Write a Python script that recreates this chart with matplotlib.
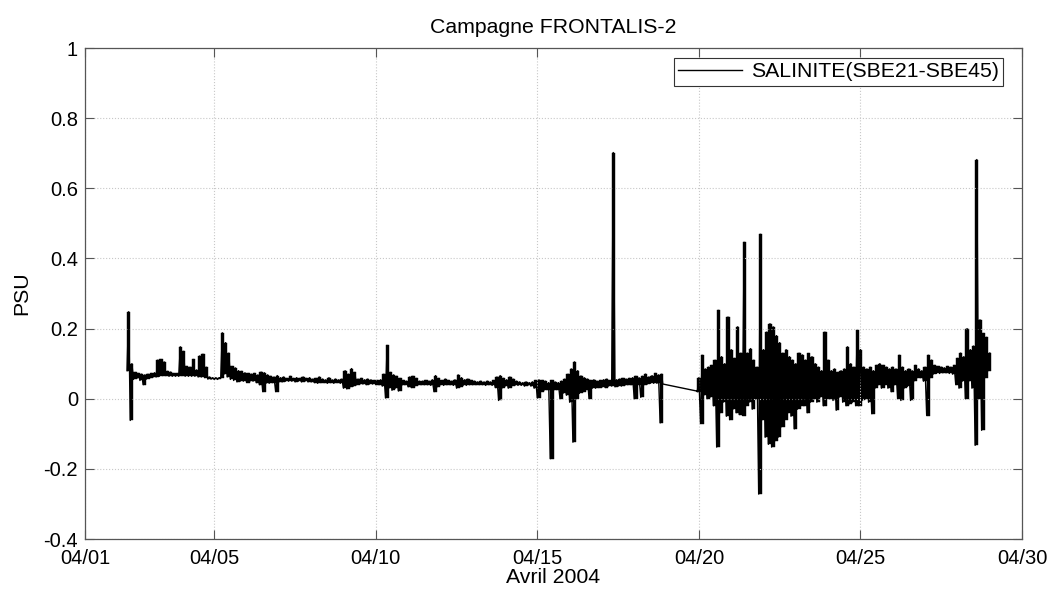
import numpy as np
import matplotlib
matplotlib.use('Agg')
import matplotlib.pyplot as plt

plt.rcParams['font.family'] = ['Liberation Sans', 'DejaVu Sans']
plt.rcParams['axes.unicode_minus'] = False

# salinity difference SBE21-SBE45 (PSU), read as min/max per 0.1 day bin
# first leg: bins start 2004-04-02.30 (day of April)
leg1_start = 2.30
leg1_hi = [0.248, 0.100, 0.075, 0.072, 0.070, 0.068, 0.070, 0.072, 0.074, 0.110,
           0.112, 0.105, 0.078, 0.076, 0.072, 0.072, 0.148, 0.135, 0.092, 0.090,
           0.112, 0.082, 0.122, 0.127, 0.090, 0.062, 0.060, 0.060, 0.060, 0.188,
           0.160, 0.130, 0.092, 0.088, 0.080, 0.078, 0.074, 0.072, 0.070, 0.072,
           0.068, 0.076, 0.074, 0.068, 0.064, 0.062, 0.066, 0.060, 0.062, 0.058,
           0.064, 0.058, 0.060, 0.058, 0.062, 0.058, 0.060, 0.056, 0.058, 0.062,
           0.056, 0.054, 0.060, 0.054, 0.056, 0.054, 0.056, 0.080, 0.070, 0.086,
           0.075, 0.056, 0.058, 0.054, 0.056, 0.054, 0.052, 0.052, 0.054, 0.070,
           0.152, 0.075, 0.068, 0.064, 0.058, 0.052, 0.050, 0.062, 0.064, 0.058,
           0.050, 0.050, 0.052, 0.050, 0.054, 0.066, 0.058, 0.052, 0.056, 0.052,
           0.050, 0.054, 0.068, 0.060, 0.054, 0.056, 0.052, 0.050, 0.048, 0.050,
           0.048, 0.050, 0.048, 0.052, 0.062, 0.066, 0.058, 0.054, 0.062, 0.056,
           0.050, 0.048, 0.046, 0.048, 0.046, 0.048, 0.052, 0.054, 0.052, 0.050,
           0.046, 0.052, 0.048, 0.046, 0.050, 0.056, 0.070, 0.085, 0.105, 0.080,
           0.065, 0.060, 0.056, 0.052, 0.054, 0.050, 0.052, 0.054, 0.056, 0.052,
           0.702, 0.054, 0.056, 0.058, 0.056, 0.058, 0.060, 0.064, 0.060, 0.064,
           0.070, 0.062, 0.066, 0.072, 0.068, 0.070]
leg1_lo = [0.080, -0.062, 0.055, 0.058, 0.052, 0.040, 0.056, 0.060, 0.062, 0.062,
           0.064, 0.066, 0.066, 0.064, 0.064, 0.064, 0.064, 0.066, 0.064, 0.064,
           0.064, 0.064, 0.062, 0.062, 0.060, 0.056, 0.056, 0.055, 0.055, 0.060,
           0.070, 0.062, 0.055, 0.052, 0.048, 0.050, 0.050, 0.046, 0.050, 0.050,
           0.046, 0.040, 0.020, 0.044, 0.044, 0.046, 0.020, 0.048, 0.048, 0.050,
           0.050, 0.050, 0.048, 0.050, 0.048, 0.050, 0.048, 0.048, 0.046, 0.044,
           0.046, 0.046, 0.044, 0.046, 0.044, 0.046, 0.044, 0.030, 0.028, 0.034,
           0.036, 0.040, 0.042, 0.042, 0.040, 0.042, 0.042, 0.040, 0.040, 0.036,
           0.002, 0.030, 0.024, 0.030, 0.022, 0.038, 0.040, 0.034, 0.032, 0.036,
           0.040, 0.040, 0.040, 0.040, 0.038, 0.020, 0.034, 0.040, 0.038, 0.040,
           0.040, 0.038, 0.030, 0.034, 0.038, 0.038, 0.040, 0.040, 0.040, 0.040,
           0.040, 0.038, 0.040, 0.038, 0.032, -0.005, 0.030, 0.036, 0.030, 0.036,
           0.038, 0.038, 0.038, 0.036, 0.038, 0.036, 0.030, 0.002, 0.020, 0.024,
           0.026, -0.171, 0.024, 0.026, 0.000, 0.016, 0.010, -0.010, -0.124, 0.000,
           0.015, 0.020, 0.026, 0.000, 0.030, 0.030, 0.032, 0.034, 0.032, 0.036,
           0.036, 0.034, 0.036, 0.036, 0.038, 0.040, 0.040, 0.000, 0.040, 0.004,
           0.040, 0.042, 0.044, 0.044, 0.044, -0.069]

# data gap between the two legs (straight segment)
gap_days = [18.88, 19.93]
gap_psu = [0.042, 0.022]

# second leg: bins start 2004-04-19.95
leg2_start = 19.95
leg2_hi = [0.060, 0.124, 0.085, 0.090, 0.095, 0.110, 0.252, 0.120, 0.100, 0.233,
           0.140, 0.115, 0.205, 0.130, 0.446, 0.130, 0.143, 0.110, 0.090, 0.469,
           0.140, 0.190, 0.214, 0.205, 0.180, 0.160, 0.130, 0.140, 0.120, 0.110,
           0.100, 0.130, 0.125, 0.110, 0.129, 0.120, 0.100, 0.090, 0.080, 0.190,
           0.110, 0.080, 0.085, 0.075, 0.080, 0.085, 0.148, 0.100, 0.090, 0.195,
           0.140, 0.090, 0.085, 0.090, 0.080, 0.095, 0.100, 0.095, 0.090, 0.085,
           0.090, 0.085, 0.124, 0.090, 0.080, 0.085, 0.080, 0.095, 0.085, 0.080,
           0.090, 0.124, 0.110, 0.095, 0.092, 0.090, 0.088, 0.092, 0.090, 0.095,
           0.115, 0.130, 0.120, 0.200, 0.140, 0.150, 0.682, 0.225, 0.186, 0.175,
           0.130]
leg2_lo = [0.020, -0.071, 0.010, 0.000, 0.005, -0.020, -0.138, -0.040, -0.010, -0.050,
           -0.060, -0.030, -0.040, -0.045, -0.048, -0.020, -0.010, -0.030, 0.000, -0.272,
           -0.060, -0.110, -0.130, -0.138, -0.120, -0.110, -0.080, -0.060, -0.040, -0.050,
           -0.086, -0.030, -0.020, -0.020, -0.040, -0.010, 0.000, -0.010, 0.005, -0.020,
           0.000, 0.000, -0.005, -0.033, 0.005, -0.010, -0.020, -0.015, -0.010, -0.020,
           -0.020, -0.005, 0.000, -0.010, -0.043, 0.030, 0.040, 0.030, 0.040, 0.030,
           0.020, 0.040, 0.000, -0.005, 0.030, 0.035, -0.005, 0.050, 0.060, 0.060,
           0.050, -0.048, 0.060, 0.070, 0.072, 0.072, 0.074, 0.074, 0.072, 0.070,
           0.040, 0.030, 0.050, 0.000, 0.050, 0.030, -0.133, 0.000, -0.090, 0.060,
           0.080]

tick_days = [1, 5, 10, 15, 20, 25, 30]
tick_labels = ['04/01', '04/05', '04/10', '04/15', '04/20', '04/25', '04/30']
y_ticks = [-0.4, -0.2, 0, 0.2, 0.4, 0.6, 0.8, 1]
y_labels = ['-0.4', '-0.2', '0', '0.2', '0.4', '0.6', '0.8', '1']

STEP = 0.1


def zigzag(start, hi, lo):
    # each bin drawn as lo -> hi, half a bin apart
    t = start + STEP * np.arange(len(hi))
    x = np.column_stack([t, t + STEP / 2]).ravel()
    y = np.column_stack([lo, hi]).ravel()
    return t, x, y


t1, x1, y1 = zigzag(leg1_start, leg1_hi, leg1_lo)
t2, x2, y2 = zigzag(leg2_start, leg2_hi, leg2_lo)
days = np.concatenate([x1, gap_days, x2])
psu = np.concatenate([y1, gap_psu, y2])

fig = plt.figure(figsize=(10.51, 5.95), dpi=100)
ax = fig.add_axes([0.0809, 0.0941, 0.8915, 0.8252])

ax.plot(days, psu, color='black', lw=1.0, label='SALINITE(SBE21-SBE45)')
# min/max range of each bin filled so the dense record reads as a solid trace
for t, hi, lo in [(t1, leg1_hi, leg1_lo), (t2, leg2_hi, leg2_lo)]:
    ax.fill_between(np.append(t, t[-1] + STEP), np.append(lo, lo[-1]),
                    np.append(hi, hi[-1]), step='post', color='black', lw=0.3)

ax.set_xlim(1, 30)
ax.set_ylim(-0.4, 1)
ax.set_xticks(tick_days)
ax.set_xticklabels(tick_labels)
ax.set_yticks(y_ticks)
ax.set_yticklabels(y_labels)
ax.grid(True, color='#c8c8c8', linestyle=':', linewidth=0.8)
ax.tick_params(direction='in', length=6.5, width=0.8, color='#555555',
               top=True, right=True, labelsize=14.5, pad=5)
ax.tick_params(axis='x', pad=7)
for s in ax.spines.values():
    s.set_color('#555555')
    s.set_linewidth(0.9)

ax.set_title('Campagne FRONTALIS-2', fontsize=15.3, pad=11)
ax.set_xlabel('Avril 2004', fontsize=15.3, labelpad=0)
ax.set_ylabel('PSU', fontsize=15.3, labelpad=9)

leg = ax.legend(loc='upper right', bbox_to_anchor=(0.9797, 0.9796), borderaxespad=0,
                fontsize=15.3, fancybox=False, edgecolor='#333333', framealpha=1,
                borderpad=0.2, handlelength=3.0, handletextpad=0.4)
leg.get_frame().set_linewidth(0.8)

fig.savefig('out.png', dpi=100)
